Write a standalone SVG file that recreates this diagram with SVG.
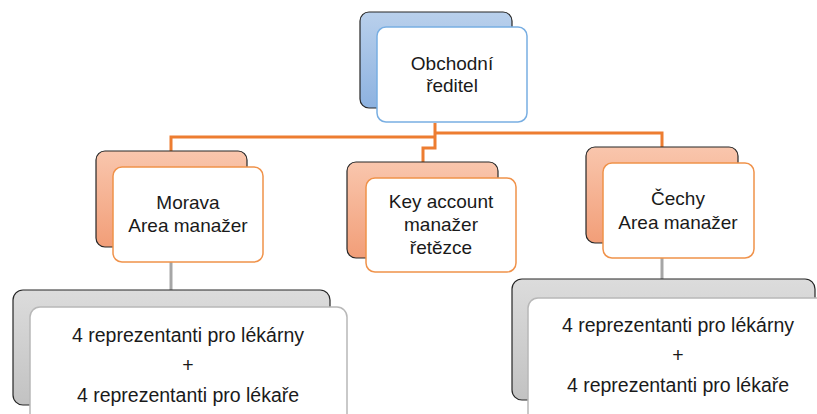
<svg xmlns="http://www.w3.org/2000/svg" width="817" height="414" viewBox="0 0 817 414">
<defs>
<linearGradient id="gBlue" x1="0" y1="0" x2="0" y2="1"><stop offset="0" stop-color="#b9d0ec"/><stop offset="1" stop-color="#8db2e0"/></linearGradient>
<linearGradient id="gOrange" x1="0" y1="0" x2="0" y2="1"><stop offset="0" stop-color="#f9c6ad"/><stop offset="1" stop-color="#f29e78"/></linearGradient>
<linearGradient id="gGray" x1="0" y1="0" x2="0" y2="1"><stop offset="0" stop-color="#dcdcdc"/><stop offset="1" stop-color="#c2c2c2"/></linearGradient>
</defs>
<style>
.back{stroke:#262626;stroke-width:1.2}
.front{fill:#ffffff;stroke-width:1.5}
.fb{stroke:#78aee2}
.fo{stroke:#f0924a}
.fg{stroke:#b8b8b8}
text{font-family:"Liberation Sans",Arial,sans-serif;font-size:19px;fill:#1a1a1a;text-anchor:middle}
.big{font-size:19.5px}
.co{fill:none;stroke:#ed7d31;stroke-width:3}
.cg{fill:none;stroke:#a6a6a6;stroke-width:3}
</style>
<g id="connectors">
<path class="co" d="M435 123 V148 H423 V162"/>
<path class="co" d="M435 137 H171 V151"/>
<path class="co" d="M435 133 H662 V147"/>
<path class="cg" d="M171 262 V290"/>
<path class="cg" d="M662 258 V280"/>
</g>
<g id="obchodni">
<rect class="back" x="360" y="12" width="152" height="96" rx="9" fill="url(#gBlue)"/>
<rect class="front fb" x="377" y="27" width="150" height="95" rx="9"/>
<text x="452" y="70">Obchodní</text>
<text x="452" y="92">ředitel</text>
</g>
<g id="morava">
<rect class="back" x="96" y="151" width="151" height="96" rx="9" fill="url(#gOrange)"/>
<rect class="front fo" x="113" y="167" width="150" height="95" rx="9"/>
<text x="188" y="209">Morava</text>
<text x="188" y="232">Area manažer</text>
</g>
<g id="keyaccount">
<rect class="back" x="347" y="162" width="151" height="96" rx="9" fill="url(#gOrange)"/>
<rect class="front fo" x="366" y="178" width="150" height="94" rx="9"/>
<text x="441" y="208">Key account</text>
<text x="441" y="231">manažer</text>
<text x="441" y="254">řetězce</text>
</g>
<g id="cechy">
<rect class="back" x="586" y="147" width="152" height="96" rx="9" fill="url(#gOrange)"/>
<rect class="front fo" x="603" y="163" width="151" height="95" rx="9"/>
<text x="678" y="205">Čechy</text>
<text x="678" y="229">Area manažer</text>
</g>
<g id="reprezentanti-morava">
<rect class="back" x="13" y="290" width="317" height="115" rx="10" fill="url(#gGray)"/>
<rect class="front fg" x="30" y="307" width="317" height="120" rx="10"/>
<text class="big" x="188" y="342">4 reprezentanti pro lékárny</text>
<text class="big" x="188" y="372">+</text>
<text class="big" x="188" y="402">4 reprezentanti pro lékaře</text>
</g>
<g id="reprezentanti-cechy">
<rect class="back" x="512" y="279" width="303" height="121" rx="10" fill="url(#gGray)"/>
<rect class="front fg" x="528" y="298" width="310" height="130" rx="10"/>
<text class="big" x="678" y="332">4 reprezentanti pro lékárny</text>
<text class="big" x="678" y="362">+</text>
<text class="big" x="678" y="392">4 reprezentanti pro lékaře</text>
</g>
</svg>
